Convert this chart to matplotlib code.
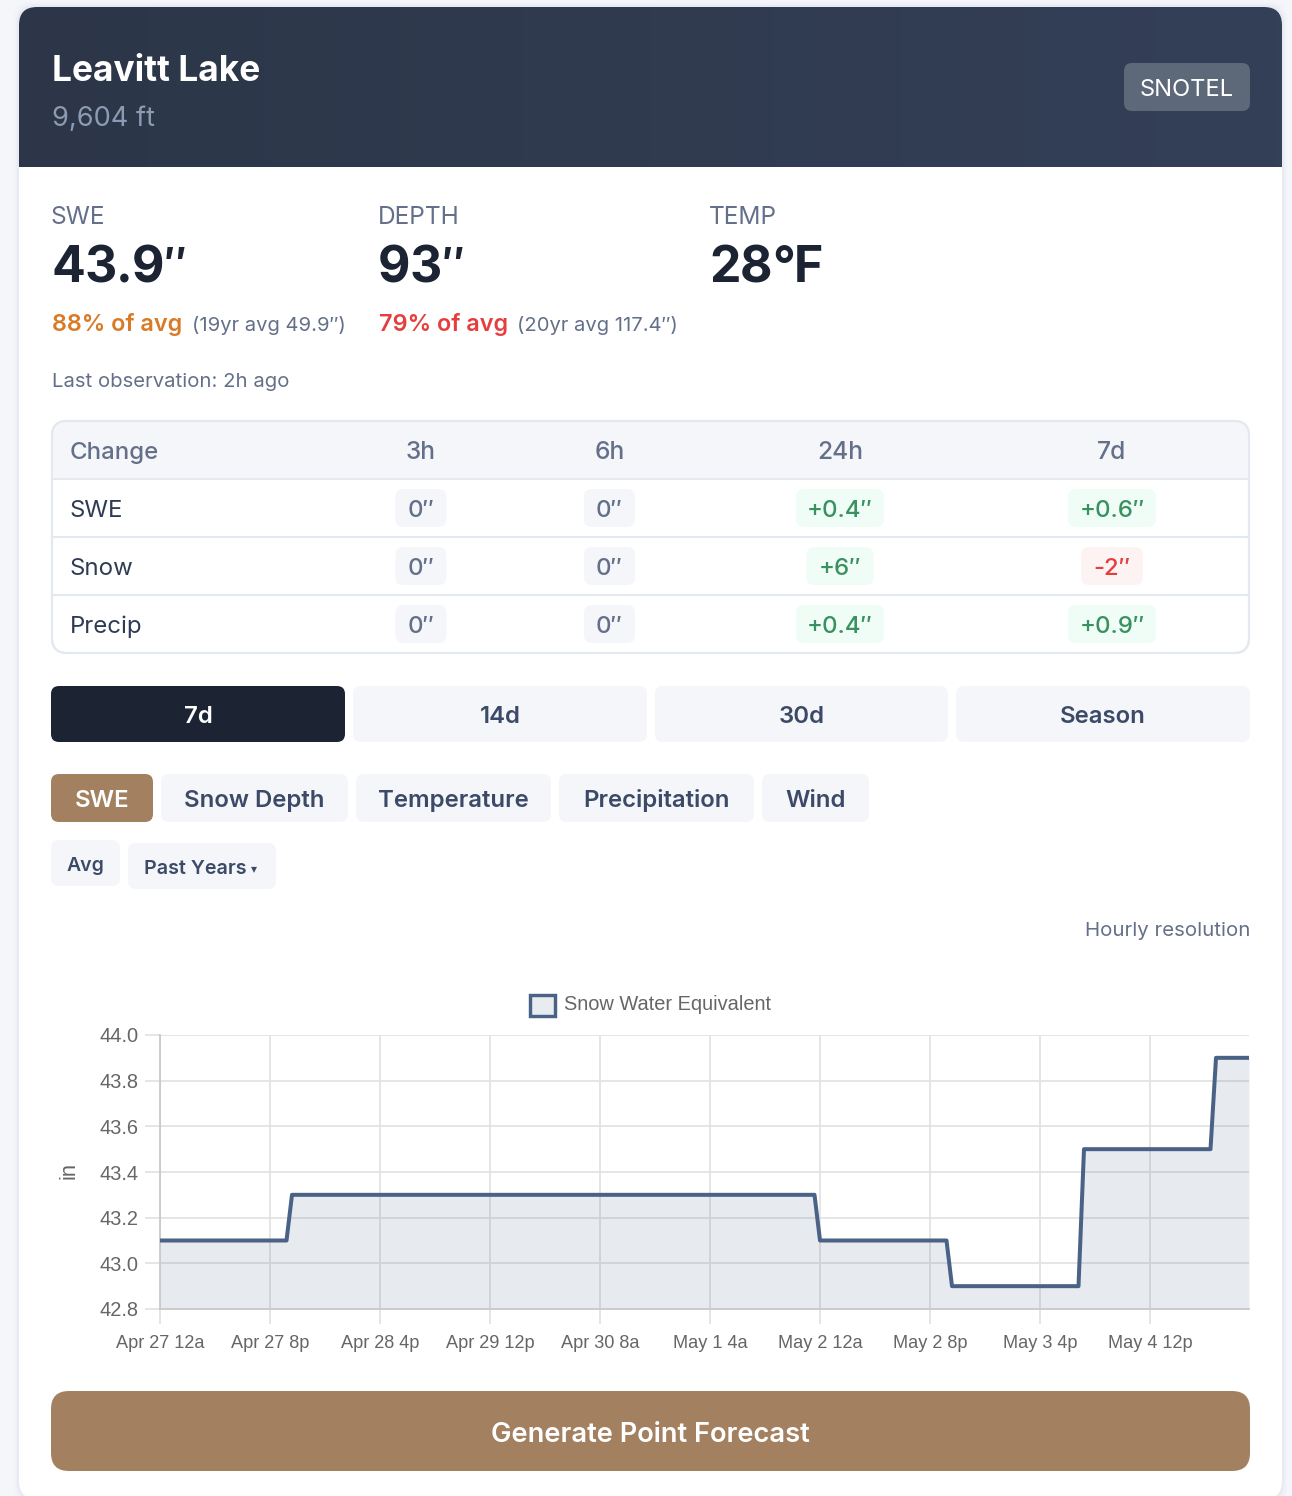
import numpy as np
import matplotlib
matplotlib.use("Agg")
import matplotlib.pyplot as plt
from matplotlib.patches import FancyBboxPatch, Rectangle

# hours since Apr 27 12a, SWE readings at the corners of the steps
swe_hours = [0, 23, 24, 119, 120, 143, 144, 167, 168, 191, 192, 198]
swe_values = [43.1, 43.1, 43.3, 43.3, 43.1, 43.1, 42.9, 42.9, 43.5, 43.5, 43.9, 43.9]

x_tick_hours = [0, 20, 40, 60, 80, 100, 120, 140, 160, 180]
x_tick_labels = ["Apr 27 12a", "Apr 27 8p", "Apr 28 4p", "Apr 29 12p", "Apr 30 8a",
                 "May 1 4a", "May 2 12a", "May 2 8p", "May 3 4p", "May 4 12p"]
y_ticks = [42.8, 43.0, 43.2, 43.4, 43.6, 43.8, 44.0]

stat_names = ["SWE", "DEPTH", "TEMP"]
stat_values = ["43.9″", "93″", "28°F"]

table_header = ["Change", "3h", "6h", "24h", "7d"]
table_rows = ["SWE", "Snow", "Precip"]
table_cells = [["0″", "0″", "+0.4″", "+0.6″"],
               ["0″", "0″", "+6″", "-2″"],
               ["0″", "0″", "+0.4″", "+0.9″"]]

range_buttons = ["7d", "14d", "30d", "Season"]
metric_chips = ["SWE", "Snow Depth", "Temperature", "Precipitation", "Wind"]

W, H = 1292, 1496
BG = "#f4f6fa"
BORDER = "#e4e9f0"
SLATE = "#64708a"
BUTTON_TEXT = "#3c4a68"
TAN = "#a38160"
LINE = "#4a6285"
UI_FONT = ["Inter", "DejaVu Sans"]
CHART_FONT = ["Liberation Sans", "DejaVu Sans"]


def pt(px):
    return px * 0.72


fig = plt.figure(figsize=(W / 100, H / 100), dpi=100, facecolor=BG)
ui = fig.add_axes([0, 0, 1, 1])
ui.set_xlim(0, W)
ui.set_ylim(H, 0)
ui.axis("off")
renderer = fig.canvas.get_renderer()


def box(x0, y0, x1, y1, r, fc, ec="none", lw=0, z=1, ax=ui):
    p = FancyBboxPatch((x0, y0), x1 - x0, y1 - y0, boxstyle=f"round,pad=0,rounding_size={r}",
                       fc=fc, ec=ec, lw=lw, zorder=z)
    ax.add_patch(p)
    return p


def label(x, y, s, size, color, weight="normal", ha="left"):
    return ui.text(x, y, s, fontsize=pt(size), color=color, fontweight=weight, ha=ha, va="baseline",
                   family=UI_FONT, zorder=5)


def tight_label(x, y, s, size, color, weight, tracking):
    # the big numbers are set tighter than the font's own spacing, so place them char by char
    for ch in s:
        if ch == "″":
            # narrower prime, raised so its top stays level with the digits
            label(x, y - 5, ch, size * 0.84, color, weight)
            continue
        t = label(x, y, ch, size, color, weight)
        x += t.get_window_extent(renderer).width + tracking


# card with soft shadow
for grow, col in [(5, "#f1f3f8"), (3, "#ecf0f5"), (1.5, "#e6eaf1")]:
    box(19 - grow, 7 - grow, 1282 + grow, 1499 + grow, 18, col, z=0.5)
box(19, 7, 1282, 1499, 18, "white", z=1)

# header with horizontal gradient, clipped to the rounded top
grad = np.linspace(0, 1, 256).reshape(1, -1)
cmap = matplotlib.colors.LinearSegmentedColormap.from_list("hdr", ["#2c3648", "#344058"])
im = ui.imshow(grad, extent=(19, 1282, 167, 7), cmap=cmap, aspect="auto", zorder=2)
clip = FancyBboxPatch((19, 7), 1263, 200, boxstyle="round,pad=0,rounding_size=18", transform=ui.transData,
                      fc="none", ec="none")
ui.add_patch(clip)
im.set_clip_path(clip)
ui.set_xlim(0, W)
ui.set_ylim(H, 0)

label(52, 81, "Leavitt Lake", 35.3, "white", "bold")
label(52, 126, "9,604 ft", 27.2, "#8b9bb3")
box(1124, 63, 1250, 111, 8, "#5d6879", z=3)
label(1187, 96, "SNOTEL", 23.7, "white", ha="center")

# stats row
for x, name, val in zip([51, 378, 709], stat_names, stat_values):
    label(x, 224, name, 24.5, SLATE)
    tight_label(x, 282, val, 50, "#1c2433", "bold", -0.6)
label(52, 331, "88% of avg", 23.5, "#d97a26", "semibold")
label(192, 331, "(19yr avg 49.9″)", 20.2, SLATE)
label(379, 331, "79% of avg", 23.5, "#e53e3e", "semibold")
label(517, 331, "(20yr avg 117.4″)", 20.2, SLATE)
label(52, 387, "Last observation: 2h ago", 20.3, SLATE)

# change table
box(52, 421, 1249, 653, 15, "white", BORDER, 1.5, z=2)
head = Rectangle((52, 421), 1197, 58, fc=BG, ec="none", zorder=2.1)
ui.add_patch(head)
head.set_clip_path(FancyBboxPatch((52, 421), 1197, 232, boxstyle="round,pad=0,rounding_size=15",
                                  transform=ui.transData, fc="none", ec="none"))
box(52, 421, 1249, 653, 15, "none", BORDER, 1.5, z=2.2)
for y in [479, 537, 595]:
    ui.plot([52, 1249], [y, y], color=BORDER, lw=1.5, zorder=2.3, solid_capstyle="butt")

col_x = [421, 609.5, 840, 1112]
label(69.5, 459, table_header[0], 24, SLATE, "medium")
for x, s in zip(col_x, table_header[1:]):
    label(x, 459, s, 24.5, SLATE, "medium", ha="center")

pill_half = {"0″": 25.5, "+0.4″": 44, "+0.6″": 44, "+0.9″": 44, "+6″": 33.5, "-2″": 31}
for i, row in enumerate(table_rows):
    mid = 508 + i * 58
    label(69.5, mid + 9, row, 24, "#2f3b52")
    for x, s in zip(col_x, table_cells[i]):
        if s.startswith("+"):
            fc, tc = "#f0fdf6", "#38915f"
        elif s.startswith("-"):
            fc, tc = "#fdf3f3", "#e53e3e"
        else:
            fc, tc = BG, SLATE
        hw = pill_half[s]
        box(x - hw, mid - 19, x + hw, mid + 19, 8, fc, z=3)
        label(x, mid + 9, s, 24, tc, "medium", ha="center")

# range buttons
for (x0, x1), s in zip([(51, 345), (353, 647), (655, 948), (956, 1250)], range_buttons):
    active = s == "7d"
    box(x0, 686, x1, 742, 8, "#1c2434" if active else BG, z=2)
    label((x0 + x1) / 2, 723, s, 24, "white" if active else BUTTON_TEXT, "semibold", ha="center")

# metric chips
for (x0, x1), s in zip([(51, 153), (161, 348), (356, 551), (559, 754), (762, 869)], metric_chips):
    active = s == "SWE"
    box(x0, 774, x1, 822, 8, TAN if active else BG, z=2)
    label((x0 + x1) / 2, 807, s, 24, "white" if active else BUTTON_TEXT, "semibold", ha="center")

box(51, 840, 120, 886, 8, BG, z=2)
label(85.5, 871, "Avg", 19.5, BUTTON_TEXT, "semibold", ha="center")
box(128, 843, 276, 889, 8, BG, z=2)
label(144, 874, "Past Years", 19.7, BUTTON_TEXT, "semibold")
label(251, 872, "▾", 12, BUTTON_TEXT)

label(1250, 936, "Hourly resolution", 20.4, SLATE, ha="right")

# generate button
box(51, 1391, 1250, 1471, 18, TAN, z=2)
label(650.5, 1442, "Generate Point Forecast", 27.3, "white", "semibold", ha="center")

# the chart itself
left, right, top, bottom = 160, 1249, 1035, 1309
ax = fig.add_axes([left / W, 1 - bottom / H, (right - left) / W, (bottom - top) / H])
ax.patch.set_alpha(0)
ax.set_xlim(0, 198)
ax.set_ylim(42.8, 44.0)
ax.fill_between(swe_hours, swe_values, 42.8, color=LINE, alpha=0.13, lw=0, zorder=2)
ax.plot(swe_hours, swe_values, color=LINE, lw=pt(4.0), solid_joinstyle="round", solid_capstyle="butt",
        zorder=3, clip_on=True)
ax.set_xticks(x_tick_hours)
ax.set_xticklabels(x_tick_labels, fontsize=pt(18.2), color="#666666", family=CHART_FONT)
ax.set_yticks(y_ticks)
ax.set_yticklabels([f"{v:.1f}" for v in y_ticks], fontsize=pt(20), color="#666666", family=CHART_FONT)
ax.grid(True, color="#e3e3e3", lw=pt(1.8), zorder=1)
ax.set_axisbelow(True)
ax.tick_params(axis="both", length=pt(15), width=pt(1.8), color="#e3e3e3")
ax.tick_params(axis="y", pad=pt(6))
ax.tick_params(axis="x", pad=pt(11))
for side in ["top", "right"]:
    ax.spines[side].set_visible(False)
for side in ["left", "bottom"]:
    ax.spines[side].set_color("#c9c9c9")
    ax.spines[side].set_linewidth(pt(1.8))
ax.set_ylabel("in", fontsize=pt(22), color="#666666", family=CHART_FONT, labelpad=pt(18))
ax.yaxis.set_label_coords(-(160 - 79) / (right - left), 0.505)

# legend
ui.add_patch(Rectangle((530, 995), 25, 21, fc="#e8ebf0", ec=LINE, lw=pt(3.4), zorder=3))
ui.text(564, 1010, "Snow Water Equivalent", fontsize=pt(20), color="#666666", family=CHART_FONT,
        va="baseline", zorder=5)

fig.savefig("out.png", dpi=100, facecolor=BG)
